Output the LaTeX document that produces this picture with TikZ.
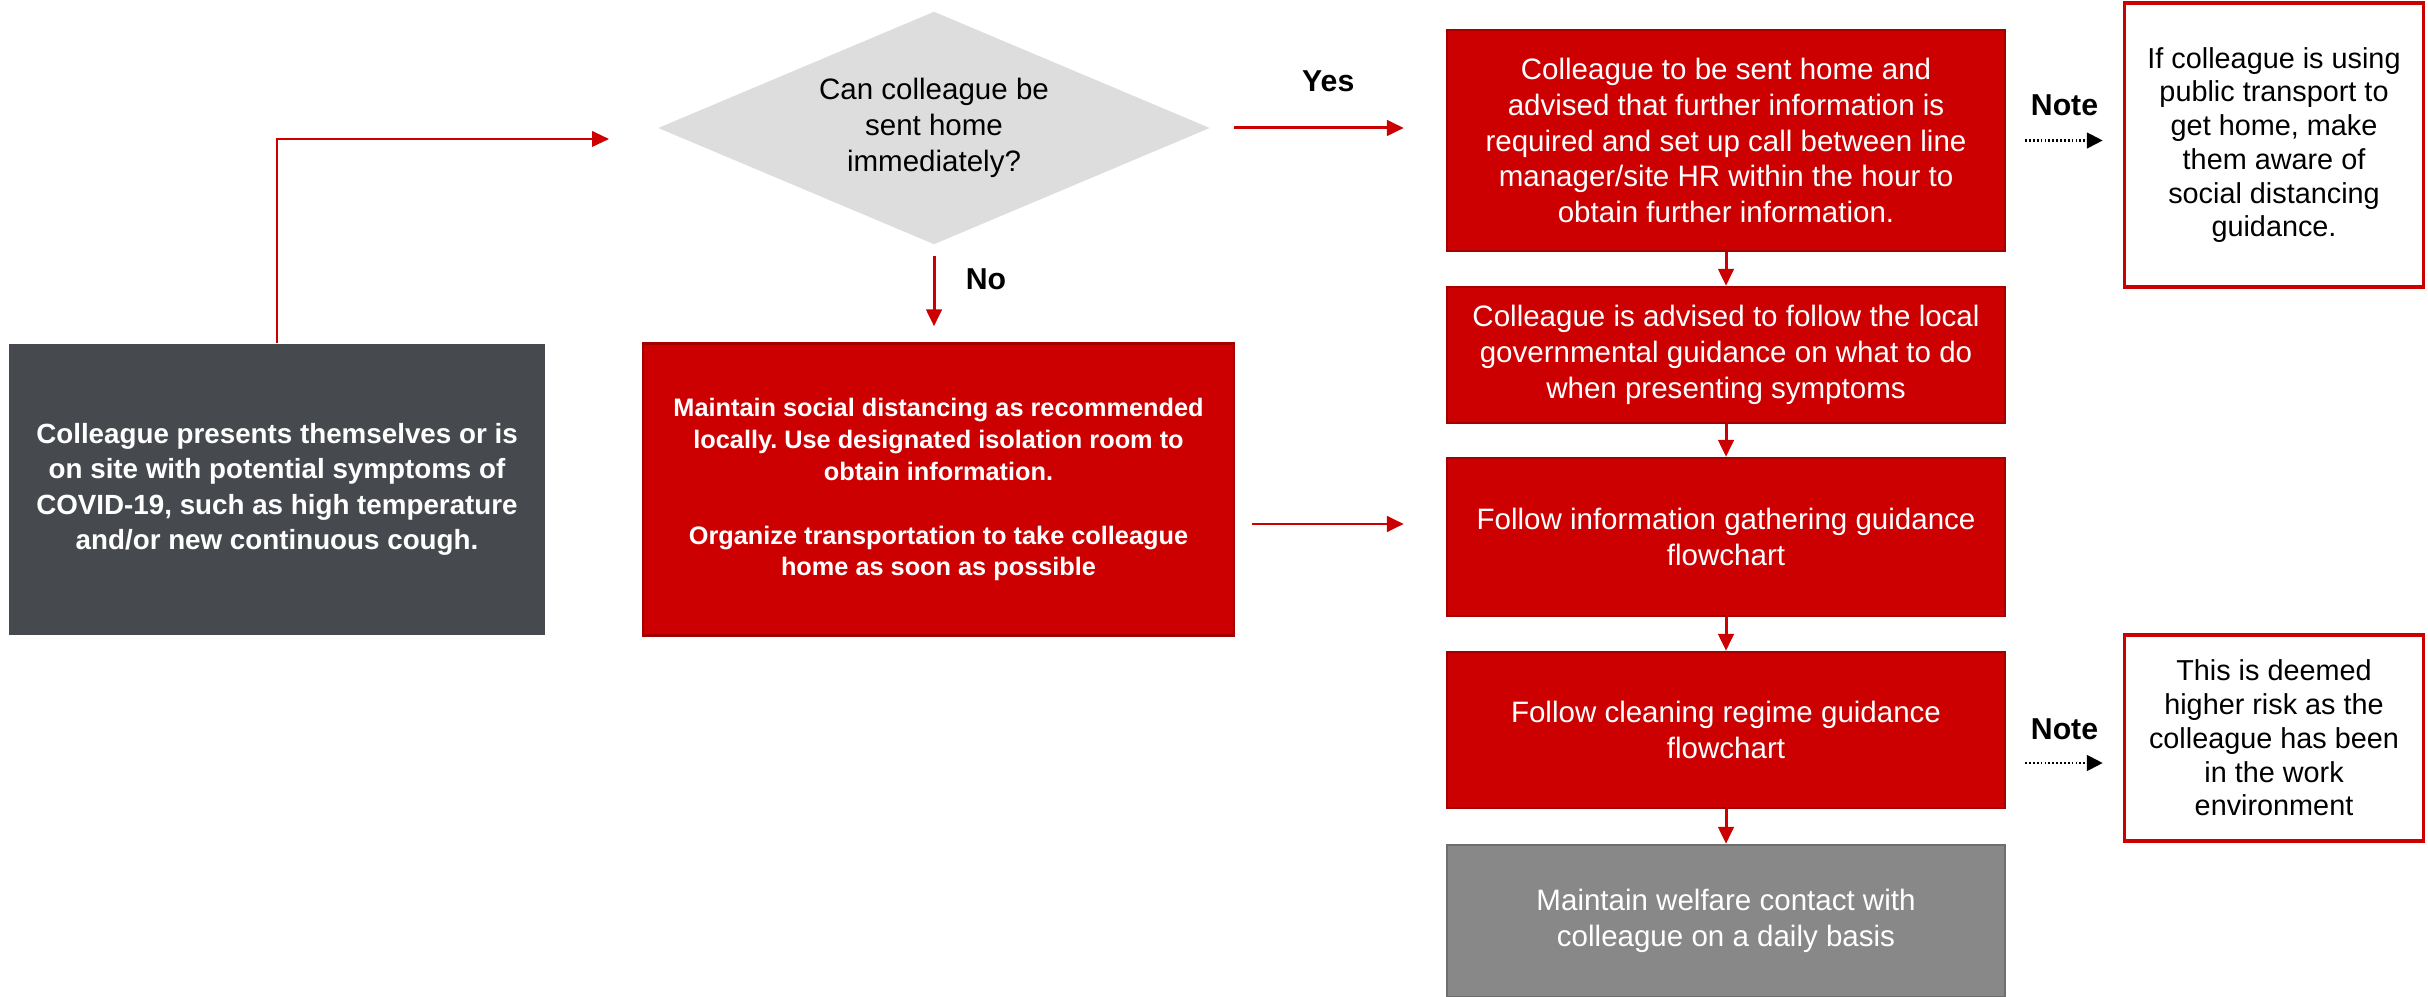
\documentclass[tikz,border=0pt]{standalone}
\usepackage{fontspec}
\setmainfont{Liberation Sans}
\usepackage{tikz}
\usetikzlibrary{arrows.meta,positioning,shapes.geometric,calc}
\definecolor{brandred}{HTML}{CC0000}
\definecolor{brandredline}{HTML}{A30000}
\definecolor{slate}{HTML}{464A4E}
\definecolor{midgray}{HTML}{888888}
\definecolor{midgrayline}{HTML}{6E6E6E}
\definecolor{qgray}{HTML}{DDDDDD}
\frenchspacing

\begin{document}
\begin{tikzpicture}[
    every node/.style={font=\fontsize{8.4}{10.2}\selectfont},
    stepbox/.style={draw=brandredline,line width=0.7pt,fill=brandred,text=white,
                    minimum width=5.58cm,align=center,inner sep=2pt},
    startbox/.style={fill=slate,text=white,minimum width=5.36cm,minimum height=2.91cm,
                     align=center,inner sep=2pt,font=\bfseries\fontsize{7.9}{10.1}\selectfont},
    decision/.style={diamond,fill=qgray,aspect=2.37,inner sep=0pt,
                     minimum width=5.52cm,minimum height=2.33cm,align=center},
    endbox/.style={draw=midgrayline,line width=0.7pt,fill=midgray,text=white,
                   minimum width=5.58cm,align=center,inner sep=2pt},
    notebox/.style={draw=brandred,line width=1pt,fill=white,minimum width=2.99cm,
                    align=center,inner sep=2pt,font=\fontsize{8.2}{9.6}\selectfont},
    lbl/.style={inner sep=0pt,font=\bfseries\fontsize{8.6}{10}\selectfont},
    flow/.style={draw=brandred,line width=0.85pt,-{Triangle[length=4.8pt,width=4.4pt]}},
    elbow/.style={draw=brandred,line width=0.6pt,-{Triangle[length=4.8pt,width=4.4pt]}},
    notearrow/.style={draw=black,line width=0.8pt,dash pattern=on 0.5pt off 0.6pt,
                      -{Triangle[length=4.5pt,width=4.4pt]}},
  ]
  \useasboundingbox (0,0) rectangle (24.28,-9.97);

  % left column
  \node[startbox] (start) at (2.77,-4.895)
    {Colleague presents themselves or is\\on site with potential symptoms of\\COVID-19, such as high temperature\\and/or new continuous cough.};
  \coordinate (intoq) at (6.09,-1.39);

  % question and no branch
  \node[decision] (decide) at (9.34,-1.28) {Can colleague be\\sent home\\immediately?};
  \node[stepbox,minimum width=5.91cm,minimum height=2.92cm,
        font=\bfseries\fontsize{7.2}{9.1}\selectfont] (isolate) at (9.385,-4.895)
    {Maintain social distancing as recommended\\locally. Use designated isolation room to\\obtain information.\\[9.1pt]Organize transportation to take colleague\\home as soon as possible};

  % right column
  \node[stepbox,minimum height=2.21cm] (sendhome) at (17.26,-1.405)
    {Colleague to be sent home and\\advised that further information is\\required and set up call between line\\manager/site HR within the hour to\\obtain further information.};
  \node[stepbox,minimum height=1.36cm] (govguide) at (17.26,-3.55)
    {Colleague is advised to follow the local\\governmental guidance on what to do\\when presenting symptoms};
  \node[stepbox,minimum height=1.58cm] (infogather) at (17.26,-5.37)
    {Follow information gathering guidance\\flowchart};
  \node[stepbox,minimum height=1.56cm] (cleaning) at (17.26,-7.30)
    {Follow cleaning regime guidance\\flowchart};
  \node[endbox,minimum height=1.52cm] (welfare) at (17.26,-9.21)
    {Maintain welfare contact with\\colleague on a daily basis};

  % notes
  \node[notebox,minimum height=2.84cm] (transport) at (22.74,-1.45)
    {If colleague is using\\public transport to\\get home, make\\them aware of\\social distancing\\guidance.};
  \node[notebox,minimum height=2.06cm] (risk) at (22.74,-7.38)
    {This is deemed\\higher risk as the\\colleague has been\\in the work\\environment};

  % connectors
  \draw[elbow] (start.north) |- (intoq);
  \draw[flow,shorten <=2.3mm,shorten >=4.2mm] (decide.east) -- (decide.east -| sendhome.west)
    node[lbl,midway,yshift=4.7mm] {Yes};
  \draw[flow,shorten <=1.1mm,shorten >=1.6mm] (decide.south) -- (decide.south |- isolate.north)
    node[lbl,midway,xshift=5.2mm,yshift=1.4mm] {No};
  \draw[flow,shorten <=1.7mm,shorten >=4.2mm] ([yshift=-3.45mm]isolate.east) -- ([yshift=-3.45mm]isolate.east -| infogather.west);
  \draw[flow] (sendhome) -- (govguide);
  \draw[flow] (govguide) -- (infogather);
  \draw[flow] (infogather) -- (cleaning);
  \draw[flow] (cleaning) -- (welfare);
  \draw[notearrow,shorten <=1.9mm,shorten >=2mm] (sendhome.east) -- (sendhome.east -| transport.west)
    node[lbl,midway,yshift=3.5mm] {Note};
  \draw[notearrow,shorten <=1.9mm,shorten >=2mm] ([yshift=-3.3mm]cleaning.east) -- ([yshift=-3.3mm]cleaning.east -| risk.west)
    node[lbl,midway,yshift=3.4mm] {Note};
\end{tikzpicture}
\end{document}
